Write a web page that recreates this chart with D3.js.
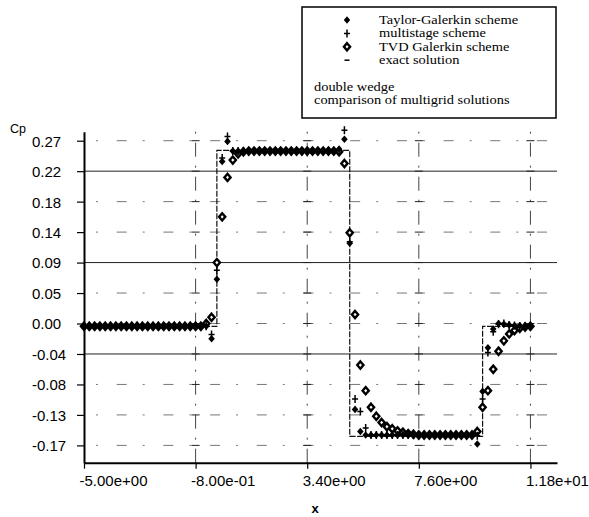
<!DOCTYPE html>
<html>
<head>
<meta charset="utf-8">
<script src="https://cdn.jsdelivr.net/npm/d3@7"></script>
<style>
  body { margin: 0; background: #fff; }
  svg { display: block; }
</style>
</head>
<body>
<svg id="chart" width="589" height="517"></svg>
<script>
// mesh points along the wall
const xMesh = [
  -5.0, -4.8, -4.6, -4.4, -4.2, -4.0, -3.8, -3.6, -3.4, -3.2,
  -3.0, -2.8, -2.6, -2.4, -2.2, -2.0, -1.8, -1.6, -1.4, -1.2,
  -1.0, -0.8, -0.6, -0.4, -0.2, 0.0, 0.2, 0.4, 0.6, 0.8,
  1.0, 1.2, 1.4, 1.6, 1.8, 2.0, 2.2, 2.4, 2.6, 2.8,
  3.0, 3.2, 3.4, 3.6, 3.8, 4.0, 4.2, 4.4, 4.6, 4.8,
  5.0, 5.2, 5.4, 5.6, 5.8, 6.0, 6.2, 6.4, 6.6, 6.8,
  7.0, 7.2, 7.4, 7.6, 7.8, 8.0, 8.2, 8.4, 8.6, 8.8,
  9.0, 9.2, 9.4, 9.6, 9.8, 10.0, 10.2, 10.4, 10.6, 10.8,
  11.0, 11.2, 11.4, 11.6, 11.8
];

// Cp of each scheme, one value per mesh point
const taylorGalerkin = [
  0, 0, 0, 0, 0, 0, 0, 0, 0, 0,
  0, 0, 0, 0, 0, 0, 0, 0, 0, 0,
  0, 0, 0, 0, -0.018, 0.068, 0.238, 0.267, 0.253, 0.253,
  0.253, 0.253, 0.253, 0.253, 0.253, 0.253, 0.253, 0.253, 0.253, 0.253,
  0.253, 0.253, 0.253, 0.253, 0.253, 0.253, 0.253, 0.253, 0.256, 0.270,
  0.120, -0.120, -0.152, -0.157, -0.157, -0.157, -0.157, -0.157, -0.157, -0.157,
  -0.157, -0.157, -0.157, -0.157, -0.157, -0.157, -0.157, -0.157, -0.157, -0.157,
  -0.157, -0.157, -0.157, -0.157, -0.170, -0.094, -0.031, -0.004, 0.004, 0.003,
  0.002, 0.001, 0.001, 0, 0
];
const multistage = [
  0, 0, 0, 0, 0, 0, 0, 0, 0, 0,
  0, 0, 0, 0, 0, 0, 0, 0, 0, 0,
  0, 0, 0, 0, -0.012, 0.081, 0.243, 0.274, 0.253, 0.253,
  0.253, 0.253, 0.253, 0.253, 0.253, 0.253, 0.253, 0.253, 0.253, 0.253,
  0.253, 0.253, 0.253, 0.253, 0.253, 0.253, 0.253, 0.253, 0.254, 0.283,
  0.122, -0.105, -0.123, -0.147, -0.157, -0.157, -0.157, -0.157, -0.157, -0.157,
  -0.157, -0.157, -0.157, -0.157, -0.157, -0.157, -0.157, -0.157, -0.157, -0.157,
  -0.157, -0.157, -0.157, -0.157, -0.158, -0.105, -0.038, -0.008, 0.003, 0.004,
  0.002, 0.001, 0, 0, 0
];
const tvdGalerkin = [
  0, 0, 0, 0, 0, 0, 0, 0, 0, 0,
  0, 0, 0, 0, 0, 0, 0, 0, 0, 0,
  0, 0, 0, 0.004, 0.013, 0.092, 0.158, 0.215, 0.240, 0.249,
  0.252, 0.253, 0.253, 0.253, 0.253, 0.253, 0.253, 0.253, 0.253, 0.253,
  0.253, 0.253, 0.253, 0.253, 0.253, 0.253, 0.253, 0.253, 0.252, 0.235,
  0.135, 0.017, -0.056, -0.093, -0.117, -0.130, -0.139, -0.145, -0.148, -0.151,
  -0.153, -0.155, -0.156, -0.157, -0.157, -0.157, -0.157, -0.157, -0.157, -0.157,
  -0.157, -0.157, -0.157, -0.157, -0.152, -0.117, -0.093, -0.062, -0.036, -0.021,
  -0.011, -0.006, -0.003, -0.001, 0
];

// exact solution: value holds until the next breakpoint
const exactX = [-5, 0, 5, 10, 11.8];
const exactCp = [0, 0.254, -0.159, 0, 0];

const xTicks = [-5, -0.8, 3.4, 7.6, 11.8];
const yTicks = [-0.172, -0.128, -0.084, -0.040, 0.004, 0.048, 0.092, 0.136, 0.180, 0.224, 0.268];

const legendLabels = ["Taylor-Galerkin scheme", "multistage scheme", "TVD Galerkin scheme", "exact solution"];
const noteLines = ["double wedge", "comparison of multigrid solutions"];

const x = d3.scaleLinear([-5, 12.8], [84, 557]);
const y = d3.scaleLinear([-0.197, 0.281], [462.7, 131.7]);

const sans = "'Liberation Sans', Arial, sans-serif";
const serif = "'Liberation Serif', 'Times New Roman', serif";

const fmtExp = d => {
  const [m, e] = d.toExponential(2).split("e");
  return `${m}e${e[0]}${e.slice(1).padStart(2, "0")}`;
};

const diamond = (w, h) => `M0,${-h}L${w},0L0,${h}L${-w},0Z`;
const plus = (w, h) => `M0,${-h}V${h}M${-w},0H${w}`;

const svg = d3.select("#chart");

// grid
const grid = svg.append("g");
grid.selectAll("line.h")
  .data(yTicks)
  .join("line")
    .attr("x1", x(-5)).attr("x2", x.range()[1])
    .attr("y1", d => y(d)).attr("y2", d => y(d))
    .attr("stroke", (d, i) => i % 3 === 0 && i > 0 ? "#222" : "#777")
    .attr("stroke-width", 1)
    .attr("stroke-dasharray", (d, i) => i % 3 === 0 && i > 0 ? null : "10,16,2,18.7")
    .attr("stroke-dashoffset", 14);

grid.selectAll("line.v")
  .data(xTicks.slice(1))
  .join("line")
    .attr("x1", d => x(d)).attr("x2", d => x(d))
    .attr("y1", y.range()[0]).attr("y2", y.range()[1])
    .attr("stroke", "#444")
    .attr("stroke-width", 1)
    .attr("stroke-dasharray", "14,9,2,9");

// small ticks where vertical grid lines cross tick levels
grid.selectAll("path.cross")
  .data(xTicks.slice(1).flatMap(a => yTicks.map(b => [a, b])))
  .join("path")
    .attr("d", d => `M${x(d[0]) - 4},${y(d[1])}H${x(d[0]) + 4}`)
    .attr("stroke", "#222")
    .attr("stroke-width", 1);

// exact solution
svg.append("path")
    .datum(exactX.map((v, i) => [v, exactCp[i]]))
    .attr("fill", "none")
    .attr("stroke", "#111")
    .attr("stroke-width", 1.2)
    .attr("stroke-dasharray", "6,1.5")
    .attr("d", d3.line().x(d => x(d[0])).y(d => y(d[1])).curve(d3.curveStepAfter));

const points = vals => xMesh.map((v, i) => [v, vals[i]]);

svg.append("g")
  .selectAll("path")
  .data(points(tvdGalerkin))
  .join("path")
    .attr("transform", d => `translate(${x(d[0])},${y(d[1])})`)
    .attr("d", diamond(3.1, 3.6))
    .attr("fill", "#fff")
    .attr("stroke", "#000")
    .attr("stroke-width", 2.4);

svg.append("g")
  .selectAll("path")
  .data(points(taylorGalerkin))
  .join("path")
    .attr("transform", d => `translate(${x(d[0])},${y(d[1])})`)
    .attr("d", diamond(3.3, 3.8))
    .attr("fill", "#000");

svg.append("g")
  .selectAll("path")
  .data(points(multistage))
  .join("path")
    .attr("transform", d => `translate(${x(d[0])},${y(d[1])})`)
    .attr("d", plus(3, 4))
    .attr("stroke", "#000")
    .attr("stroke-width", 1.5);

// axes
const xAxis = g => g
  .attr("transform", `translate(0,${y.range()[0]})`)
  .call(d3.axisBottom(x).tickValues(xTicks).tickFormat(fmtExp).tickSize(6).tickSizeOuter(0))
  .call(g => g.select(".domain").attr("stroke-width", 2))
  .call(g => g.selectAll(".tick line").attr("stroke-width", 1.2))
  .call(g => g.selectAll(".tick text")
      .attr("text-anchor", "start")
      .attr("dx", -5)
      .attr("y", 23.5)
      .attr("dy", 0)
      .attr("fill", "#000"));

const yAxis = g => g
  .attr("transform", `translate(${x(-5)},0)`)
  .call(d3.axisLeft(y).tickValues(yTicks).tickFormat(d => d.toFixed(2)).tickSize(7).tickSizeOuter(0))
  .call(g => g.select(".domain").attr("stroke-width", 2))
  .call(g => g.selectAll(".tick line").attr("stroke-width", 1.2))
  .call(g => g.selectAll(".tick text")
      .attr("text-anchor", "start")
      .attr("x", -52)
      .attr("dy", "0.36em")
      .attr("fill", "#000"));

svg.append("g")
    .attr("font-family", sans)
    .call(xAxis)
    .attr("font-size", 15);

svg.append("g")
    .attr("font-family", sans)
    .call(yAxis)
    .attr("font-size", 15);

svg.append("text")
    .attr("x", 10).attr("y", 133)
    .attr("font-family", sans).attr("font-size", 12.5)
    .text("Cp");

svg.append("text")
    .attr("x", 315).attr("y", 513)
    .attr("text-anchor", "middle")
    .attr("font-family", sans).attr("font-size", 13).attr("font-weight", "bold")
    .text("x");

// legend
const legend = svg.append("g")
    .attr("font-family", serif)
    .attr("font-size", 12);

legend.append("rect")
    .attr("x", 302).attr("y", 7)
    .attr("width", 254).attr("height", 111)
    .attr("fill", "#fff")
    .attr("stroke", "#000")
    .attr("stroke-width", 1.5);

const symbols = [
  g => g.append("path").attr("d", diamond(3.2, 3.7)).attr("fill", "#000"),
  g => g.append("path").attr("d", plus(3, 4)).attr("stroke", "#000").attr("stroke-width", 1.5),
  g => g.append("path").attr("d", diamond(3.1, 3.6)).attr("fill", "#fff").attr("stroke", "#000").attr("stroke-width", 2.4),
  g => g.append("path").attr("d", "M-2.5,0H2.5").attr("stroke", "#000").attr("stroke-width", 1.5)
];

// the printed legend type is wide for its height, so stretch the lines a little
const widen = sel => sel
  .attr("textLength", function() { return this.getComputedTextLength() * 1.2; })
  .attr("lengthAdjust", "spacingAndGlyphs");

legendLabels.forEach((label, i) => {
  legend.append("g")
      .attr("transform", `translate(347,${20 + i * 13.4})`)
      .call(symbols[i]);
  legend.append("text")
      .attr("x", 379).attr("y", 24 + i * 13.4)
      .text(label)
      .call(widen);
});

noteLines.forEach((line, i) => {
  legend.append("text")
      .attr("x", 314).attr("y", 91 + i * 13.4)
      .text(line)
      .call(widen);
});
</script>
</body>
</html>
